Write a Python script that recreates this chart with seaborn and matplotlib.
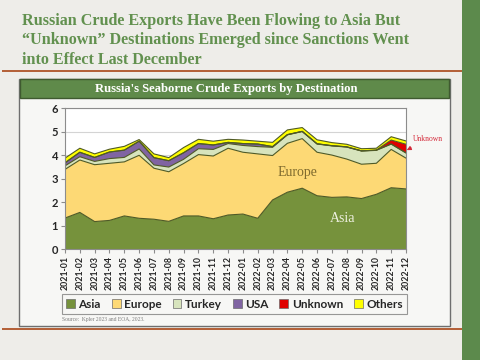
import numpy as np
import pandas as pd
import matplotlib
matplotlib.use("Agg")
import matplotlib.pyplot as plt
import seaborn as sns
from matplotlib.patches import Rectangle

months = ["2021-01", "2021-02", "2021-03", "2021-04", "2021-05", "2021-06",
          "2021-07", "2021-08", "2021-09", "2021-10", "2021-11", "2021-12",
          "2022-01", "2022-02", "2022-03", "2022-04", "2022-05", "2022-06",
          "2022-07", "2022-08", "2022-09", "2022-10", "2022-11", "2022-12"]
asia = [1.33, 1.57, 1.18, 1.23, 1.42, 1.32, 1.28, 1.19, 1.42, 1.42, 1.30, 1.46,
        1.50, 1.32, 2.10, 2.43, 2.60, 2.28, 2.21, 2.23, 2.16, 2.34, 2.62, 2.57]
europe = [2.07, 2.23, 2.42, 2.43, 2.30, 2.68, 2.17, 2.11, 2.23, 2.61, 2.67, 2.84,
          2.63, 2.74, 1.89, 2.08, 2.11, 1.85, 1.80, 1.61, 1.46, 1.32, 1.63, 1.31]
turkey = [0.15, 0.14, 0.14, 0.20, 0.19, 0.27, 0.14, 0.20, 0.18, 0.25, 0.28, 0.20,
          0.29, 0.31, 0.35, 0.36, 0.30, 0.35, 0.39, 0.51, 0.56, 0.55, 0.23, 0.22]
usa = [0.13, 0.19, 0.17, 0.28, 0.31, 0.33, 0.31, 0.27, 0.28, 0.22, 0.19, 0.05,
       0.08, 0.11, 0.03, 0.01, 0.01, 0.01, 0.01, 0.01, 0.01, 0.01, 0.00, 0.00]
unknown = [0, 0, 0, 0, 0, 0, 0, 0, 0, 0, 0, 0,
           0, 0, 0, 0, 0, 0, 0, 0, 0, 0, 0.17, 0.37]
others = [0.20, 0.17, 0.15, 0.12, 0.16, 0.07, 0.16, 0.13, 0.22, 0.18, 0.16, 0.13,
          0.15, 0.12, 0.18, 0.20, 0.16, 0.17, 0.13, 0.11, 0.09, 0.08, 0.14, 0.14]
series_names = ["Asia", "Europe", "Turkey", "USA", "Unknown", "Others"]
yticks = [0, 1, 2, 3, 4, 5, 6]

colors = ["#76923c", "#fdd975", "#d7e4bd", "#8064a2", "#e00000", "#ffff00"]
edge = "#4f5a26"

sns.set_theme(style="white")
plt.rcParams["font.family"] = ["Lato", "DejaVu Sans"]

W, H = 480, 360
fig = plt.figure(figsize=(W / 100, H / 100), dpi=100)
fig.patch.set_facecolor("#eeede9")

def fx(x):
    return x / W

def fy(y):
    return 1 - y / H

# right green stripe
fig.patches.append(Rectangle((fx(462), 0), fx(18), 1, transform=fig.transFigure,
                             facecolor="#5c8a4c", edgecolor="none", zorder=0))
# brown rules
for yy in (71, 329):
    fig.patches.append(Rectangle((fx(2), fy(yy + 1.2)), fx(460), 2.4 / H,
                                 transform=fig.transFigure, facecolor="#b4623a",
                                 edgecolor="none", zorder=1))
# chart panel
fig.patches.append(Rectangle((fx(19), fy(326)), fx(431), (326 - 79) / H,
                             transform=fig.transFigure, facecolor="#f7f7f5",
                             edgecolor="#6e6e6e", linewidth=1.0, zorder=1))
# header bar
fig.patches.append(Rectangle((fx(20), fy(98)), fx(429), 19 / H,
                             transform=fig.transFigure, facecolor="#5f8a4a",
                             edgecolor="#3f5a30", linewidth=1.0, zorder=2))

title = fig.text(fx(22), fy(13), "Russian Crude Exports Have Been Flowing to Asia But\n"
                 "\u201cUnknown\u201d Destinations Emerged since Sanctions Went\n"
                 "into Effect Last December", ha="left", va="top",
                 family=["Liberation Serif", "DejaVu Serif"], weight="bold",
                 fontsize=12.5, color="#62914f", linespacing=1.28, zorder=3)
sub = fig.text(fx(226), fy(89), "Russia's Seaborne Crude Exports by Destination",
               ha="center", va="center", family=["Liberation Serif", "DejaVu Serif"],
               weight="bold", fontsize=9, color="white", zorder=3)

ax = fig.add_axes([fx(65), fy(249.3), fx(406 - 65), (249.3 - 108.3) / H], zorder=4)
ax.set_facecolor("white")
x = np.arange(len(months))
data = [asia, europe, turkey, usa, unknown, others]
ax.stackplot(x, *data, colors=colors, edgecolor="none", linewidth=0)
cum = np.cumsum(np.array(data, dtype=float), axis=0)
df = pd.DataFrame({"x": np.tile(x, len(series_names)),
                   "y": cum.ravel(),
                   "s": np.repeat(series_names, len(x))})
sns.lineplot(data=df, x="x", y="y", units="s", estimator=None, color=edge,
             linewidth=0.8, ax=ax, legend=False)
ax.set_xlim(0, len(months) - 1)
ax.set_ylim(0, 6)
ax.set_yticks(yticks)
ax.set_yticklabels([str(t) for t in yticks], fontsize=8, weight="bold")
ax.set_xticks(x)
ax.set_xticklabels(months, rotation=90, fontsize=6.3, weight="bold")
ax.set_xlabel("")
ax.set_ylabel("")
ax.grid(axis="y", color="#d4d4d4", linewidth=0.8, zorder=0)
ax.set_axisbelow(True)
for sp in ax.spines.values():
    sp.set_color("#8c8c8c")
    sp.set_linewidth(0.8)
ax.tick_params(axis="both", length=3, width=0.8, color="#8c8c8c", pad=2,
               bottom=True, left=True)

ax.text(15.7, 3.25, "Europe", ha="center", va="center", fontsize=10,
        family=["Liberation Serif", "DejaVu Serif"], color="#7f6b2e")
ax.text(18.75, 1.33, "Asia", ha="center", va="center", fontsize=10,
        family=["Liberation Serif", "DejaVu Serif"], color="#eef0e0")
ax.annotate("Unknown", xy=(23.05, 4.22), xytext=(24.45, 4.68), ha="center",
            va="center", fontsize=5.5, family=["Liberation Serif", "DejaVu Serif"],
            color="#d42a3a", annotation_clip=False,
            arrowprops=dict(arrowstyle="-|>", color="#d42a3a", lw=0.8,
                            mutation_scale=6, shrinkA=2, shrinkB=0))

handles = [Rectangle((0, 0), 1, 1, facecolor=c, edgecolor="#6b6b6b", linewidth=0.5)
           for c in colors]
leg = fig.legend(handles, series_names, ncol=6, loc="center",
                 bbox_to_anchor=(fx(234.5), fy(304)), frameon=True, fancybox=False,
                 prop={"family": ["Lato", "DejaVu Sans"], "weight": "bold", "size": 8.5},
                 handlelength=0.75, handleheight=0.75, handletextpad=0.3,
                 columnspacing=0.92, borderpad=0.35, edgecolor="#7f7f7f")
leg.get_frame().set_facecolor("#f7f7f5")
leg.get_frame().set_linewidth(0.8)
leg.set_zorder(5)

fig.text(fx(62), fy(319), "Source:  Kpler 2023 and EOA, 2023.", ha="left", va="center",
         fontsize=4, family=["Liberation Serif", "DejaVu Serif"], color="#7a7a7a", zorder=5)

# fit title widths to reference
fig.canvas.draw()
r = fig.canvas.get_renderer()
bb = title.get_window_extent(r)
title.set_fontsize(12.5 * 390 / bb.width)
bb2 = sub.get_window_extent(r)
sub.set_fontsize(9 * 263 / bb2.width)

fig.savefig("out.png", dpi=100)
